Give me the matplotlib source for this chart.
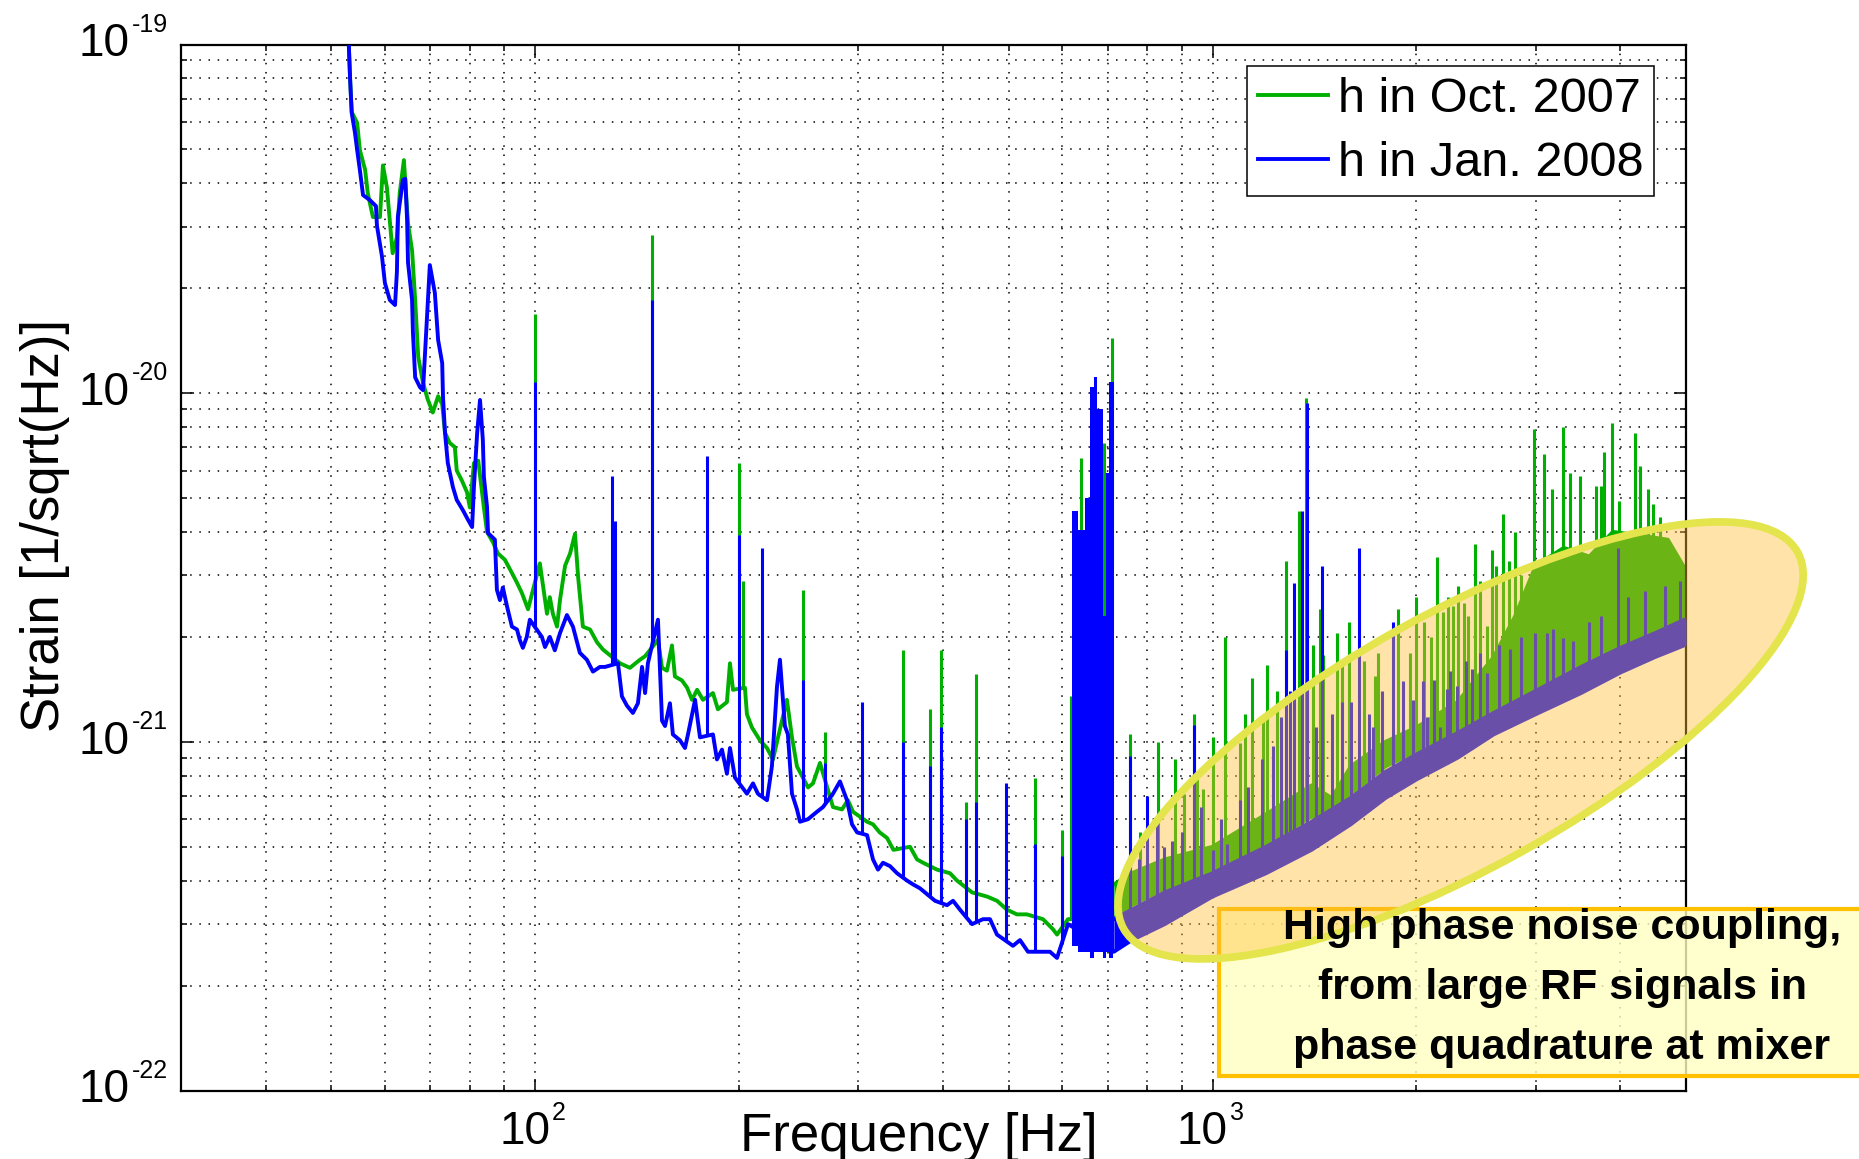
import numpy as np
import matplotlib
matplotlib.use("Agg")
import matplotlib.pyplot as plt
import matplotlib.transforms as mtransforms
from matplotlib.patches import Ellipse, Rectangle
from matplotlib.ticker import LogLocator, NullFormatter, FixedLocator

plt.rcParams['font.family'] = ['Liberation Sans', 'DejaVu Sans']

# ---------------------------------------------------------------- data
series_labels = ['h in Oct. 2007', 'h in Jan. 2008']

# Oct. 2007 (green): broadband floor 52-612 Hz
green_f = [52.8, 53.3, 53.6, 54.6, 55.1, 56.1, 56.6, 57.6, 59.0, 59.6,
           60.4, 61.0, 61.6, 62.5, 63.1, 64.0, 64.9, 65.8, 66.5, 67.2,
           68.3, 69.4, 70.6, 71.9, 72.9, 73.6, 74.8, 76.1, 76.6, 78.0,
           79.3, 80.1, 81.2, 82.4, 84.0, 84.9, 86.6, 88.1, 90.2, 92.4,
           94.0, 95.6, 97.6, 101.6, 104.1, 105.1, 106.2, 107.7, 108.8, 110.7,
           112.6, 114.5, 115.7, 117.6, 120.5, 123.4, 125.9, 133.4, 138.0, 142.8,
           145.3, 151.8, 153.9, 156.5, 159.2, 160.8, 164.7, 167.6, 170.4, 173.4,
           176.9, 183.0, 186.1, 191.9, 193.9, 195.9, 204.0, 205.4, 208.9, 214.7,
           219.9, 224.4, 227.5, 235.3, 239.4, 243.5, 252.8, 257.1, 263.3, 275.2,
           283.8, 289.5, 294.6, 309.0, 315.3, 322.5, 330.7, 338.0, 357.6, 366.2,
           373.8, 391.9, 409.6, 419.5, 441.5, 464.6, 480.6, 497.2, 514.3, 532.1,
           561.9, 581.4, 589.4, 611.8]
green_h = [1.3e-19, 8.0e-20, 6.4e-20, 5.96e-20, 4.98e-20, 4.37e-20, 3.75e-20, 3.2e-20, 3.2e-20, 4.5e-20,
           3.9e-20, 3.14e-20, 2.52e-20, 2.8e-20, 3.75e-20, 4.66e-20, 3.07e-20, 2.57e-20, 1.85e-20, 1.27e-20,
           1.07e-20, 9.6e-21, 8.8e-21, 9.8e-21, 9.3e-21, 7.7e-21, 7.2e-21, 7.0e-21, 6.0e-21, 5.6e-21,
           5.2e-21, 4.7e-21, 6.3e-21, 6.4e-21, 4.7e-21, 4.0e-21, 3.74e-21, 3.47e-21, 3.33e-21, 3.05e-21,
           2.86e-21, 2.67e-21, 2.4e-21, 3.25e-21, 2.33e-21, 2.6e-21, 2.33e-21, 2.14e-21, 2.55e-21, 3.2e-21,
           3.47e-21, 3.95e-21, 2.98e-21, 2.14e-21, 2.1e-21, 1.93e-21, 1.84e-21, 1.68e-21, 1.63e-21, 1.72e-21,
           1.76e-21, 1.96e-21, 1.63e-21, 1.6e-21, 1.89e-21, 1.54e-21, 1.5e-21, 1.43e-21, 1.32e-21, 1.41e-21,
           1.32e-21, 1.38e-21, 1.24e-21, 1.3e-21, 1.68e-21, 1.41e-21, 1.43e-21, 1.2e-21, 1.1e-21, 1.01e-21,
           9.6e-22, 8.9e-22, 1.0e-21, 1.32e-21, 1.03e-21, 8.5e-22, 7.4e-22, 7.6e-22, 8.7e-22, 6.5e-22,
           6.4e-22, 6.8e-22, 6.3e-22, 5.9e-22, 5.8e-22, 5.5e-22, 5.3e-22, 4.9e-22, 5.0e-22, 4.6e-22,
           4.5e-22, 4.3e-22, 4.2e-22, 4.0e-22, 3.7e-22, 3.6e-22, 3.5e-22, 3.3e-22, 3.2e-22, 3.2e-22,
           3.1e-22, 2.9e-22, 2.8e-22, 3.1e-22]

# Oct. 2007 (green): thick noisy floor above 715 Hz (lower / upper edge)
green_band_f = [715, 760, 850, 1000, 1200, 1400, 1500, 1600, 1800, 2000,
                2300, 2600, 2800, 3000, 3300, 3600, 3900, 4300, 4700, 5000]
green_band_lo = [3.1e-22, 3.4e-22, 3.8e-22, 4.1e-22, 5.1e-22, 6.1e-22, 6.0e-22, 7.1e-22, 8.5e-22, 9.4e-22,
                 1.08e-21, 1.23e-21, 1.33e-21, 1.42e-21, 1.55e-21, 1.72e-21, 1.85e-21, 2.0e-21, 2.15e-21, 2.3e-21]
green_band_hi = [3.9e-22, 4.2e-22, 4.6e-22, 5.0e-22, 6.2e-22, 7.5e-22, 6.9e-22, 8.5e-22, 1.0e-21, 1.1e-21,
                 1.3e-21, 1.75e-21, 2.3e-21, 3.2e-21, 3.6e-21, 3.4e-21, 4.0e-21, 3.9e-21, 3.8e-21, 3.1e-21]

# Oct. 2007 (green): narrow spectral lines (frequency, peak)
green_spike_f = [100, 130, 149, 179.3, 200, 202.6, 248.5, 268, 303.7, 349,
                 382.7, 397.6, 433, 448, 547, 598.5, 619, 640, 692, 711,
                 755, 781, 830, 880, 906, 939, 948, 969, 1000, 1043,
                 1098, 1116, 1142, 1187, 1203, 1243, 1282, 1340, 1372, 1407,
                 1440, 1456, 1526, 1551, 1589, 1672, 1736, 1752, 1878, 1955,
                 2000, 2050, 2100, 2145, 2188, 2230, 2264, 2300, 2350, 2380,
                 2440, 2480, 2540, 2584, 2620, 2684, 2740, 2795, 2850, 2982,
                 3085, 3170, 3291, 3370, 3486, 3681, 3740, 3783, 3887, 3981,
                 4204, 4275, 4394, 4469, 4577]
green_spike_h = [1.69e-20, 3.2e-21, 2.84e-20, 1.6e-21, 6.3e-21, 2.9e-21, 2.73e-21, 1.07e-21, 8.5e-22, 1.84e-21,
                 1.24e-21, 1.84e-21, 6.7e-22, 1.57e-21, 7.9e-22, 5.6e-22, 1.35e-21, 6.5e-21, 7.2e-21, 1.44e-20,
                 1.05e-21, 5.5e-22, 1.0e-21, 8.9e-22, 7.1e-22, 1.2e-21, 7.8e-22, 7.3e-22, 1.03e-21, 2.0e-21,
                 9.9e-22, 1.2e-21, 1.52e-21, 1.18e-21, 1.66e-21, 1.4e-21, 3.3e-21, 4.6e-21, 9.7e-21, 1.9e-21,
                 2.4e-21, 1.77e-21, 2.05e-21, 1.68e-21, 2.2e-21, 1.7e-21, 1.54e-21, 1.8e-21, 2.4e-21, 1.8e-21,
                 2.6e-21, 2.2e-21, 2.0e-21, 3.4e-21, 2.35e-21, 2.6e-21, 2.45e-21, 2.8e-21, 2.5e-21, 2.3e-21,
                 3.7e-21, 2.9e-21, 2.15e-21, 3.55e-21, 3.2e-21, 4.5e-21, 3.3e-21, 4.0e-21, 3.0e-21, 7.9e-21,
                 6.7e-21, 5.3e-21, 8.0e-21, 5.9e-21, 5.8e-21, 5.4e-21, 5.4e-21, 6.8e-21, 8.2e-21, 4.9e-21,
                 7.7e-21, 6.2e-21, 5.3e-21, 4.8e-21, 4.4e-21]

# Jan. 2008 (blue): broadband floor 52-612 Hz
blue_f = [52.8, 53.3, 53.6, 54.2, 54.6, 55.1, 55.7, 57.0, 58.2, 58.4,
          59.4, 60.0, 61.0, 62.1, 62.5, 62.7, 63.8, 64.3, 64.7, 64.9,
          65.8, 66.0, 66.5, 67.6, 68.3, 69.2, 69.9, 71.1, 71.9, 72.9,
          73.1, 73.6, 74.3, 75.6, 76.6, 78.2, 79.6, 80.7, 81.2, 82.1,
          82.9, 83.7, 84.0, 84.9, 85.2, 87.2, 87.8, 88.7, 89.6, 90.9,
          92.4, 94.0, 94.9, 95.9, 97.2, 98.2, 102.3, 103.4, 105.1, 106.9,
          108.8, 111.4, 113.7, 116.4, 119.2, 121.7, 124.6, 126.8, 132.5, 134.3,
          136.6, 139.4, 141.8, 143.8, 145.3, 146.7, 151.8, 153.9, 155.5, 158.1,
          159.7, 163.6, 166.4, 168.1, 172.2, 175.1, 183.0, 185.5, 188.7, 191.9,
          193.9, 197.2, 205.4, 209.7, 213.2, 219.9, 223.6, 227.5, 229.8, 233.7,
          236.1, 239.4, 243.5, 246.0, 252.8, 260.6, 266.0, 275.2, 281.8, 288.6,
          293.6, 298.7, 309.0, 315.3, 320.7, 326.2, 334.1, 342.1, 354.0, 361.3,
          370.0, 389.3, 405.5, 413.9, 423.8, 441.5, 458.3, 469.3, 480.6, 507.4,
          519.7, 534.0, 560.0, 575.4, 589.4, 611.8]
blue_h = [1.3e-19, 8.0e-20, 6.36e-20, 5.57e-20, 4.98e-20, 4.37e-20, 3.70e-20, 3.58e-20, 3.44e-20, 3.02e-20,
          2.47e-20, 2.07e-20, 1.85e-20, 1.79e-20, 2.23e-20, 3.20e-20, 4.09e-20, 4.12e-20, 3.14e-20, 2.37e-20,
          1.85e-20, 1.49e-20, 1.11e-20, 1.04e-20, 1.02e-20, 1.62e-20, 2.33e-20, 1.94e-20, 1.42e-20, 1.22e-20,
          9.75e-21, 7.69e-21, 6.31e-21, 5.38e-21, 4.94e-21, 4.62e-21, 4.33e-21, 4.13e-21, 5.38e-21, 7.69e-21,
          9.56e-21, 7.35e-21, 5.75e-21, 4.72e-21, 3.97e-21, 3.80e-21, 2.73e-21, 2.55e-21, 2.77e-21, 2.44e-21,
          2.14e-21, 2.10e-21, 1.96e-21, 1.86e-21, 2.00e-21, 2.24e-21, 2.0e-21, 1.87e-21, 2.0e-21, 1.83e-21,
          2.05e-21, 2.31e-21, 2.14e-21, 1.80e-21, 1.72e-21, 1.59e-21, 1.64e-21, 1.64e-21, 1.68e-21, 1.35e-21,
          1.27e-21, 1.21e-21, 1.29e-21, 1.64e-21, 1.38e-21, 1.68e-21, 2.24e-21, 1.15e-21, 1.11e-21, 1.29e-21,
          1.05e-21, 1.01e-21, 9.6e-22, 1.05e-21, 1.32e-21, 1.03e-21, 1.05e-21, 8.9e-22, 9.5e-22, 8.1e-22,
          9.6e-22, 7.9e-22, 7.1e-22, 7.6e-22, 7.1e-22, 6.8e-22, 8.5e-22, 1.44e-21, 1.72e-21, 1.11e-21,
          1.05e-21, 7.1e-22, 6.4e-22, 5.9e-22, 6.0e-22, 6.3e-22, 6.5e-22, 7.1e-22, 7.7e-22, 6.8e-22,
          5.8e-22, 5.5e-22, 5.4e-22, 4.6e-22, 4.3e-22, 4.5e-22, 4.4e-22, 4.2e-22, 4.0e-22, 3.9e-22,
          3.8e-22, 3.5e-22, 3.4e-22, 3.5e-22, 3.3e-22, 3.0e-22, 3.1e-22, 3.1e-22, 2.8e-22, 2.6e-22,
          2.7e-22, 2.5e-22, 2.5e-22, 2.5e-22, 2.4e-22, 3.0e-22]

# Jan. 2008 (blue): thick noisy floor above 715 Hz
blue_band_f = [715, 760, 850, 1000, 1200, 1400, 1600, 1800, 2000, 2300, 2600, 3000, 3500, 4000, 4500, 5000]
blue_band_lo = [2.5e-22, 2.7e-22, 3.0e-22, 3.6e-22, 4.2e-22, 4.9e-22, 5.8e-22, 6.9e-22,
                7.8e-22, 9.0e-22, 1.05e-21, 1.2e-21, 1.38e-21, 1.58e-21, 1.75e-21, 1.9e-21]
blue_band_hi = [3.1e-22, 3.3e-22, 3.7e-22, 4.2e-22, 5.0e-22, 5.9e-22, 6.9e-22, 8.2e-22,
                9.2e-22, 1.06e-21, 1.21e-21, 1.4e-21, 1.64e-21, 1.86e-21, 2.05e-21, 2.25e-21]

# Jan. 2008 (blue): narrow spectral lines
blue_spike_f = [100, 129.8, 131.2, 149, 179.3, 200, 216, 248.5, 268, 303.7,
                349, 382.7, 397.6, 433, 448, 496, 547, 598.5, 755, 780,
                800, 827, 848, 870, 901, 939, 960, 1000, 1030, 1049,
                1098, 1130, 1182, 1229, 1261, 1282, 1300, 1321, 1356, 1379,
                1420, 1450, 1500, 1551, 1600, 1645, 1700, 1727, 1780, 1846,
                1910, 1979, 2045, 2070, 2120, 2165, 2216, 2241, 2293, 2370,
                2413, 2480, 2539, 2650, 2750, 2850, 2992, 3113, 3180, 3294,
                3408, 3600, 3750, 3968, 4100, 4350, 4650, 4900]
blue_spike_h = [1.08e-20, 5.8e-21, 4.3e-21, 1.85e-20, 6.6e-21, 3.92e-21, 3.6e-21, 1.5e-21, 8.7e-22, 1.3e-21,
                1.0e-21, 8.5e-22, 1.1e-21, 6.0e-22, 6.7e-22, 7.6e-22, 5.1e-22, 4.7e-22, 9.1e-22, 4.6e-22,
                7.0e-22, 5.9e-22, 5.0e-22, 5.2e-22, 5.5e-22, 1.12e-21, 6.5e-22, 4.9e-22, 6.0e-22, 5.1e-22,
                6.8e-22, 7.4e-22, 8.9e-22, 9.7e-22, 1.18e-21, 1.84e-21, 1.4e-21, 2.85e-21, 4.6e-21, 9.4e-21,
                1.1e-21, 3.2e-21, 1.2e-21, 1.3e-21, 1.3e-21, 3.6e-21, 1.2e-21, 1.1e-21, 1.4e-21, 2.2e-21,
                1.49e-21, 1.32e-21, 1.49e-21, 1.18e-21, 1.5e-21, 1.1e-21, 1.42e-21, 1.6e-21, 1.45e-21, 1.7e-21,
                1.62e-21, 1.8e-21, 1.58e-21, 1.9e-21, 1.85e-21, 2.0e-21, 2.05e-21, 2.05e-21, 2.1e-21, 1.98e-21,
                1.94e-21, 2.2e-21, 2.3e-21, 3.6e-21, 2.6e-21, 2.7e-21, 2.8e-21, 2.9e-21]

# Jan. 2008 (blue): dense cluster of lines 620-715 Hz (envelope)
bundle_f = [621, 634, 649, 659, 668, 676, 690, 696, 703, 713, 716]
bundle_top = [4.6e-21, 4.05e-21, 5.0e-21, 1.04e-20, 1.11e-20, 9.0e-21, 2.3e-21, 5.9e-21, 1.08e-20, 1.08e-20, 1.08e-20]
bundle_bottom = [2.6e-22, 2.5e-22, 2.5e-22, 2.4e-22, 2.5e-22, 2.5e-22, 2.4e-22, 2.5e-22, 2.4e-22, 2.5e-22, 2.5e-22]

# axis ticks: value, mantissa text, exponent text
x_major = [1e2, 1e3]
x_exp = ['2', '3']
y_major = [1e-22, 1e-21, 1e-20, 1e-19]
y_exp = ['-22', '-21', '-20', '-19']

note_text = 'High phase noise coupling,\nfrom large RF signals in\nphase quadrature at mixer'

# ---------------------------------------------------------------- style
GREEN = '#00B000'
BLUE = '#0000FF'
LW = 2.8
SPK = 2.2
PT = 0.72  # points per output pixel at 100 dpi

W, H = 1859, 1159
fig = plt.figure(figsize=(W / 100, H / 100), dpi=100)
ax = fig.add_axes([181 / W, (H - 1090.5) / H, 1505 / W, 1046 / H])
ax.set_xscale('log')
ax.set_yscale('log')
ax.set_xlim(30, 5000)
ax.set_ylim(1e-22, 1e-19)


def foot(fs, base_f, base_h):
    return 10 ** np.interp(np.log10(fs), np.log10(base_f), np.log10(base_h))


def draw_series(f, h, bf, blo, bhi, sf, sh, color, z, label):
    all_f = np.concatenate([f, bf])
    all_h = np.concatenate([h, blo])
    line, = ax.plot(all_f, all_h, color=color, lw=LW, zorder=z, label=label)
    ax.fill_between(bf, blo, bhi, color=color, lw=0, zorder=z)
    ax.plot(bf, bhi, color=color, lw=LW, zorder=z)
    ax.vlines(sf, foot(sf, all_f, all_h), sh, color=color, lw=SPK, zorder=z)
    return line


draw_series(green_f, green_h, green_band_f, green_band_lo, green_band_hi,
            green_spike_f, green_spike_h, GREEN, 2, series_labels[0])
draw_series(blue_f, blue_h, blue_band_f, blue_band_lo, blue_band_hi,
            blue_spike_f, blue_spike_h, BLUE, 3, series_labels[1])
ax.fill_between(bundle_f, bundle_bottom, bundle_top, step='post', color=BLUE, lw=0, zorder=3)

# ticks, grid
ax.xaxis.set_major_locator(FixedLocator(x_major))
ax.yaxis.set_major_locator(FixedLocator(y_major))
ax.xaxis.set_minor_locator(LogLocator(base=10, subs=np.arange(2, 10), numticks=30))
ax.yaxis.set_minor_locator(LogLocator(base=10, subs=np.arange(2, 10), numticks=30))
for axis in (ax.xaxis, ax.yaxis):
    axis.set_major_formatter(NullFormatter())
    axis.set_minor_formatter(NullFormatter())
ax.tick_params(which='both', direction='in', top=True, right=True, width=1.1, color='black')
ax.tick_params(which='major', length=9)
ax.tick_params(which='minor', length=4.5)
for s in ax.spines.values():
    s.set_linewidth(1.6)
    s.set_color('black')
ax.grid(True, which='both', color='black', linestyle=(0, (1, 5)), linewidth=1.1)
ax.set_axisbelow(True)

# MATLAB-style power-of-ten tick labels: large "10" with a small raised exponent
MANT = 33
EXPS = 18
ytr = mtransforms.blended_transform_factory(ax.transAxes, ax.transData)
for v, e in zip(y_major, y_exp):
    ax.annotate('10', xy=(0, v), xycoords=ytr, xytext=(-52 * PT, 0), textcoords='offset points',
                ha='right', va='center', fontsize=MANT, annotation_clip=False)
    ax.annotate(e, xy=(0, v), xycoords=ytr, xytext=(-49 * PT, 20 * PT), textcoords='offset points',
                ha='left', va='center', fontsize=EXPS, annotation_clip=False)
xtr = mtransforms.blended_transform_factory(ax.transData, ax.transAxes)
for v, e in zip(x_major, x_exp):
    ax.annotate('10', xy=(v, 0), xycoords=xtr, xytext=(15 * PT, -41 * PT), textcoords='offset points',
                ha='right', va='center', fontsize=MANT, annotation_clip=False)
    ax.annotate(e, xy=(v, 0), xycoords=xtr, xytext=(17 * PT, -23 * PT), textcoords='offset points',
                ha='left', va='center', fontsize=EXPS, annotation_clip=False)

ax.set_xlabel('Frequency [Hz]', fontsize=38)
ax.xaxis.set_label_coords(0.4904, -0.0578)
ax.xaxis.label.set_va('baseline')
ax.set_ylabel('Strain [1/sqrt(Hz)]', fontsize=38)
ax.yaxis.set_label_coords(-0.0904, 0.5397)
ax.yaxis.label.set_va('center')

leg = ax.legend(loc='upper right', bbox_to_anchor=(0.979, 0.979), fontsize=35,
                frameon=True, fancybox=False, edgecolor='black', framealpha=1,
                borderpad=0.22, labelspacing=0.38, handlelength=1.45,
                handletextpad=0.2, borderaxespad=0)
leg.get_frame().set_linewidth(1.1)

# annotation box and highlighting ellipse
box = Rectangle((1219 / W, (H - 1076) / H), (1890 - 1219) / W, (1076 - 908.6) / H,
                transform=fig.transFigure, facecolor=(1.0, 1.0, 0.76, 0.8),
                edgecolor='#FFC000', lw=3, zorder=5)
fig.add_artist(box)
ell = Ellipse((1460.6 / 100, (H - 740.4) / 100), 7.72, 2.54, angle=29.2,
              transform=fig.dpi_scale_trans, facecolor=(1.0, 0.74, 0.2, 0.42),
              edgecolor='#E4E44C', lw=5.5, zorder=6)
fig.add_artist(ell)
fig.text(1562 / W, 1 - 988 / H, note_text, ha='center', va='center', fontsize=31,
         fontweight='bold', linespacing=1.65, zorder=7)

fig.savefig('out.png', dpi=100)
